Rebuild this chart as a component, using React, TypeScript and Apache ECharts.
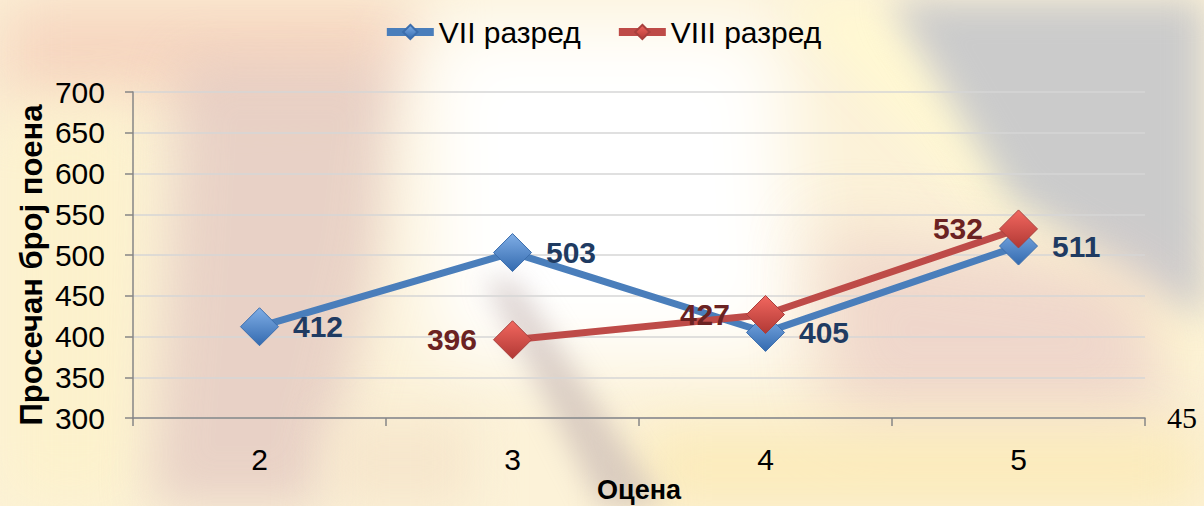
import React, { useEffect, useRef } from "react";
import * as echarts from "echarts";

const categories = ["2", "3", "4", "5"];
const grade7 = [412, 503, 405, 511];
const grade8: (number | null)[] = [null, 396, 427, 532];
const seriesNames = ["VII разред", "VIII разред"];
const yTitle = "Просечан број поена";
const xTitle = "Оцена";
const pageNumber = "45";

type Blob = { pts: string; color: string; blur: number; opacity?: number };
const blobs: Blob[] = [
  { pts: "0px 0px, 430px 0px, 400px 90px, 0px 110px", color: "#f6d6c0", blur: 30 },
  { pts: "0px 110px, 140px 110px, 140px 506px, 0px 506px", color: "#fcf1cc", blur: 30 },
  { pts: "180px 60px, 400px 60px, 380px 250px, 320px 506px, 150px 506px, 170px 250px", color: "#e4cac2", blur: 25, opacity: 0.8 },
  { pts: "420px 20px, 780px 20px, 800px 360px, 430px 360px", color: "#ffffff", blur: 40 },
  { pts: "780px 0px, 880px 0px, 1204px 320px, 1204px 400px, 1110px 330px", color: "#fff8d2", blur: 22 },
  { pts: "890px 0px, 1204px 0px, 1204px 320px, 1010px 200px", color: "#cbcbcb", blur: 18 },
  { pts: "820px 230px, 1150px 270px, 1170px 420px, 830px 420px", color: "#ecd0c8", blur: 35, opacity: 0.8 },
  { pts: "640px 430px, 1204px 430px, 1204px 506px, 640px 506px", color: "#fbeab8", blur: 30 },
  { pts: "485px 280px, 515px 280px, 665px 506px, 600px 506px", color: "#c4b4b2", blur: 14, opacity: 0.6 },
  { pts: "330px 420px, 470px 420px, 470px 506px, 330px 506px", color: "#f6e6cc", blur: 25 },
];

export default function App() {
  const ref = useRef<HTMLDivElement>(null);
  useEffect(() => {
    if (!ref.current) return;
    const chart = echarts.init(ref.current, undefined, { renderer: "svg" });
    const blueFill = new echarts.graphic.LinearGradient(0, 0, 0, 1, [
      { offset: 0, color: "#80AEE6" },
      { offset: 1, color: "#336AAF" },
    ]);
    const redFill = new echarts.graphic.LinearGradient(0, 0, 0, 1, [
      { offset: 0, color: "#F2675F" },
      { offset: 1, color: "#B13935" },
    ]);
    const font = "Liberation Sans, Arial, sans-serif";
    chart.setOption({
      animation: false,
      textStyle: { fontFamily: font },
      legend: {
        top: 12,
        left: "center",
        itemWidth: 47,
        itemHeight: 18,
        itemGap: 34,
        lineStyle: { width: 8 },
        textStyle: { fontSize: 30, color: "#000", fontFamily: font },
        data: seriesNames,
      },
      grid: { left: 133, right: 59, top: 92, bottom: 88, containLabel: false, outerBoundsMode: "none" },
      xAxis: {
        type: "category",
        data: categories,
        boundaryGap: true,
        name: xTitle,
        nameLocation: "middle",
        nameGap: 58,
        nameMoveOverlap: false,
        nameTextStyle: { fontSize: 27, fontWeight: "bold", color: "#000", fontFamily: font },
        axisLine: { lineStyle: { color: "#868686", width: 1.5 } },
        axisTick: { show: true, length: 8, lineStyle: { color: "#868686", width: 1.5 } },
        axisLabel: { fontSize: 30, color: "#000", margin: 26 },
      },
      yAxis: {
        type: "value",
        min: 300,
        max: 700,
        interval: 50,
        axisLine: { show: true, lineStyle: { color: "#868686", width: 1.5 } },
        axisTick: { show: true, length: 8, lineStyle: { color: "#868686", width: 1.5 } },
        axisLabel: { fontSize: 30, color: "#000", margin: 28 },
        splitLine: { lineStyle: { color: "#D6D6D6", width: 1.5 } },
      },
      graphic: [
        {
          type: "text",
          x: 31,
          y: 265,
          rotation: Math.PI / 2,
          style: {
            text: yTitle,
            fontSize: 31,
            fontWeight: "bold",
            fill: "#000",
            fontFamily: font,
            align: "center",
            verticalAlign: "middle",
          },
        },
        {
          type: "text",
          left: 1167,
          top: 402,
          style: { text: pageNumber, fontSize: 30, fill: "#000", fontFamily: "Liberation Serif, serif" },
        },
      ],
      series: [
        {
          name: seriesNames[0],
          type: "line",
          data: grade7,
          symbol: "diamond",
          symbolSize: 38,
          lineStyle: { color: "#4A7EBB", width: 7 },
          itemStyle: { color: blueFill, borderColor: "#3C6EAD", borderWidth: 1 },
          label: {
            show: true,
            position: "right",
            distance: 14,
            fontSize: 30,
            fontWeight: "bold",
            color: "#1F3B62",
          },
          z: 2,
        },
        {
          name: seriesNames[1],
          type: "line",
          data: grade8,
          symbol: "diamond",
          symbolSize: 38,
          connectNulls: false,
          lineStyle: { color: "#BE4B48", width: 7 },
          itemStyle: { color: redFill, borderColor: "#A8403D", borderWidth: 1 },
          label: {
            show: true,
            position: "left",
            distance: 16,
            fontSize: 30,
            fontWeight: "bold",
            color: "#6B2222",
          },
          z: 3,
        },
      ],
    });
    return () => chart.dispose();
  }, []);
  return (
    <div
      style={{
        position: "fixed",
        left: 0,
        top: 0,
        width: 1204,
        height: 506,
        overflow: "hidden",
        background: "#fcf2d8",
      }}
    >
      {blobs.map((b, i) => (
        <div
          key={i}
          style={{
            position: "absolute",
            inset: 0,
            opacity: b.opacity ?? 1,
            filter: `blur(${b.blur}px)`,
          }}
        >
          <div
            style={{
              position: "absolute",
              inset: 0,
              background: b.color,
              clipPath: `polygon(${b.pts})`,
            }}
          />
        </div>
      ))}
      <div ref={ref} style={{ position: "absolute", left: 0, top: 0, width: 1204, height: 506 }} />
    </div>
  );
}
